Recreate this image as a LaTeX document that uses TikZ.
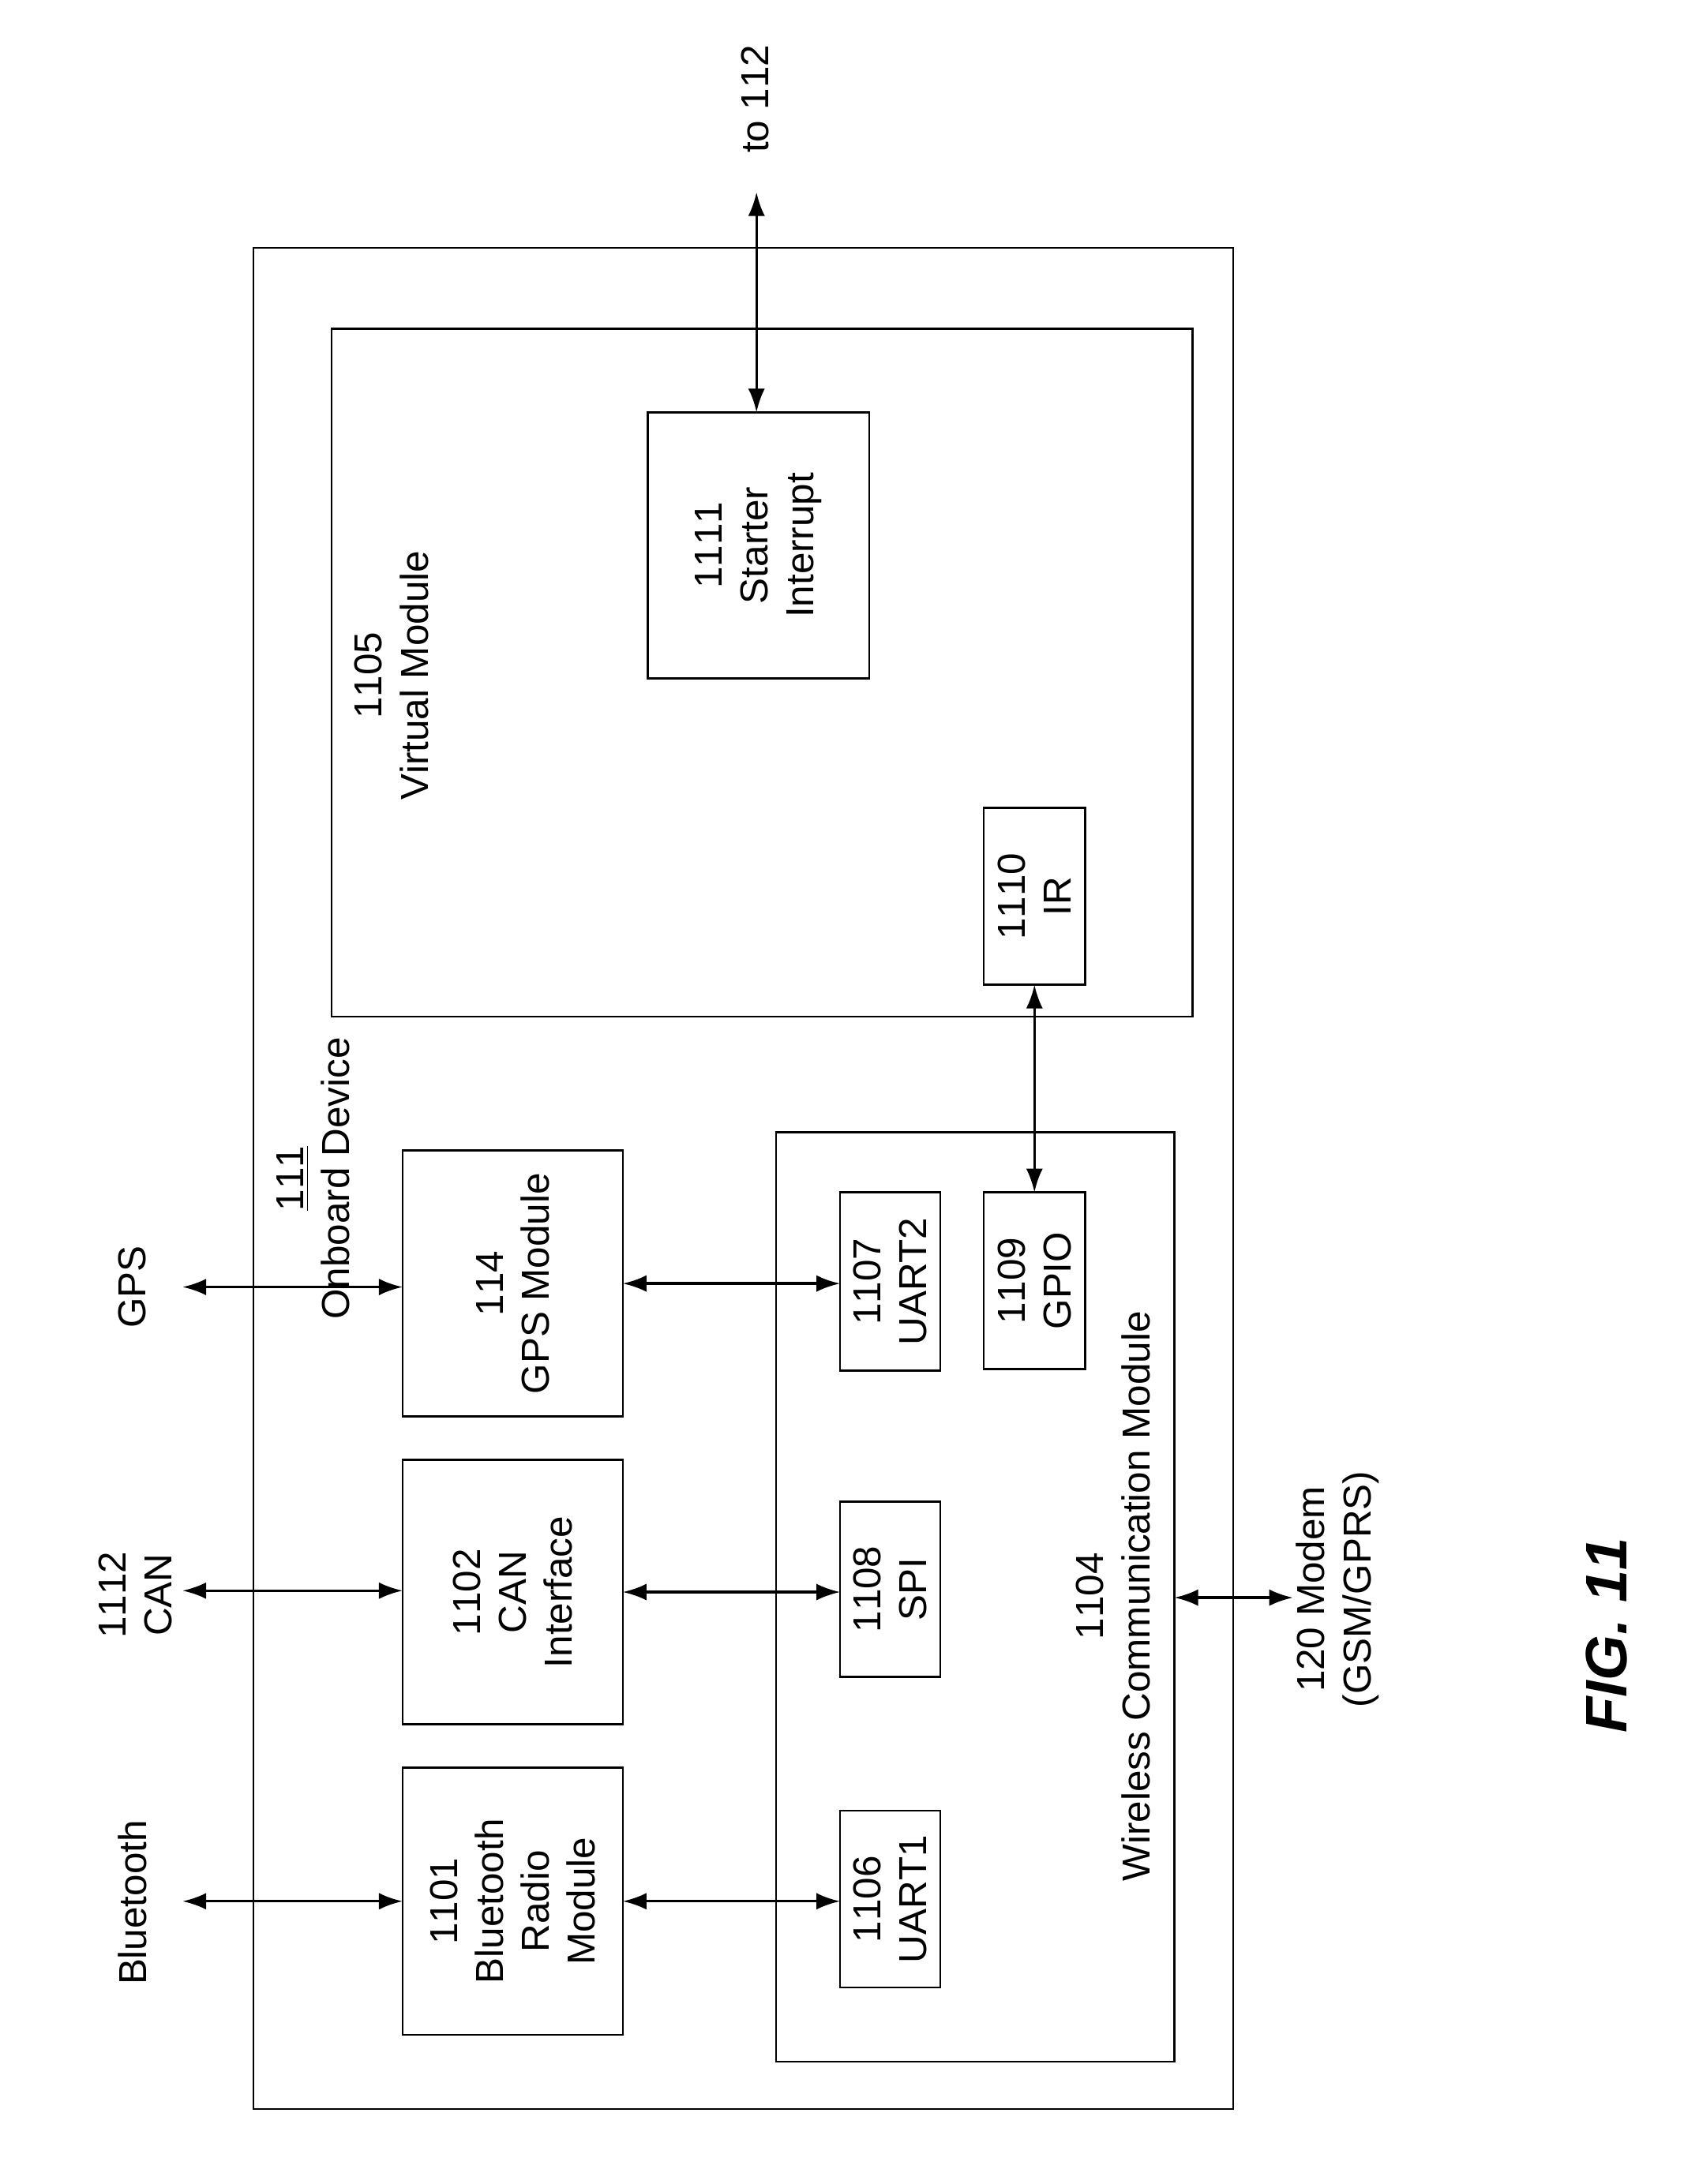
\documentclass[tikz,border=0pt]{standalone}
\usepackage{fontspec}
\setmainfont[Kerning=Off]{Liberation Sans}
\usetikzlibrary{arrows.meta}
\tikzset{
    blockbox/.style 2 args={draw, line width=0.7pt, rotate=90, align=center, inner sep=0pt, outer sep=0pt,
        minimum width=#1*0.5pt, minimum height=#2*0.5pt, font=\fontsize{14}{16.5}\selectfont},
    sidelabel/.style={rotate=90, align=center, inner sep=0pt, font=\fontsize{14}{16.5}\selectfont},
    biarrow/.style={{Latex[length=8.5pt,width=6pt]}-{Latex[length=8.5pt,width=6pt]}, line width=0.95pt}
}
\begin{document}
\begin{tikzpicture}[x=0.5pt, y=-0.5pt]
    \useasboundingbox (0,0) rectangle (1219,1568);

    % enclosures
    \node[blockbox={1336}{703}] (onboard) at (533.5,846) {};
    \node[blockbox={494}{618}] (virtual) at (547,483) {};
    \node[blockbox={667}{286}] (wireless) at (700,1146.5) {};

    % left column
    \node[blockbox={191}{158}] (gpsmod) at (368,921.5) {114\\GPS Module};
    \node[blockbox={190}{158}] (caniface) at (368,1143) {1102\\CAN\\Interface};
    \node[blockbox={192}{158}] (btradio) at (368,1365) {1101\\Bluetooth\\Radio\\Module};

    % ports of the wireless module
    \node[blockbox={128}{72}] (uarttwo) at (639,920) {1107\\UART2};
    \node[blockbox={127}{73}] (gpio) at (742.5,919.5) {1109\\GPIO};
    \node[blockbox={126}{72}] (spi) at (639,1141) {1108\\SPI};
    \node[blockbox={127}{72}] (uartone) at (639,1363.5) {1106\\UART1};

    % inside the virtual module
    \node[blockbox={191}{159}] (starter) at (544.5,391.5) {1111\\Starter\\Interrupt};
    \node[blockbox={127}{73}] (ir) at (742.5,643.5) {1110\\IR};

    % captions
    \node[sidelabel] (onboardtxt) at (225,846) {\underline{111}\\Onboard Device};
    \node[sidelabel] (virtualtxt) at (281,485) {1105\\Virtual Module};
    \node[sidelabel] (wirelesstxt) at (799,1146) {1104\\Wireless Communication Module};
    \node[sidelabel] (gpstxt) at (95,924) {GPS};
    \node[sidelabel] (cantxt) at (97,1145) {1112\\CAN};
    \node[sidelabel] (bttxt) at (95,1366) {Bluetooth};
    \node[sidelabel] (modemtxt) at (960,1141) {120 Modem\\(GSM/GPRS)};
    \node[sidelabel] (totxt) at (542,71) {to 112};
    \node[sidelabel, font=\fontsize{21}{24}\selectfont\bfseries\itshape] (figtxt) at (1153,1174) {FIG. 11};

    % free ends
    \coordinate (gpsend) at (131,924);
    \coordinate (canend) at (131,1142);
    \coordinate (btend) at (131,1365);
    \coordinate (modemend) at (928,1147);
    \coordinate (toend) at (543,138);

    % connectors
    \draw[biarrow] (gpsend) -- (gpsend -| gpsmod.north);
    \draw[biarrow] (canend) -- (canend -| caniface.north);
    \draw[biarrow] (btend) -- (btend -| btradio.north);
    \draw[biarrow] (gpsmod.south) -- (gpsmod.south -| uarttwo.north);
    \draw[biarrow] (caniface.south) -- (caniface.south -| spi.north);
    \draw[biarrow] (btradio.south) -- (btradio.south -| uartone.north);
    \draw[biarrow] (ir.west) -- (gpio.east);
    \draw[biarrow] (modemend -| wireless.south) -- (modemend);
    \draw[biarrow] (toend) -- (toend |- starter.east);
\end{tikzpicture}
\end{document}
